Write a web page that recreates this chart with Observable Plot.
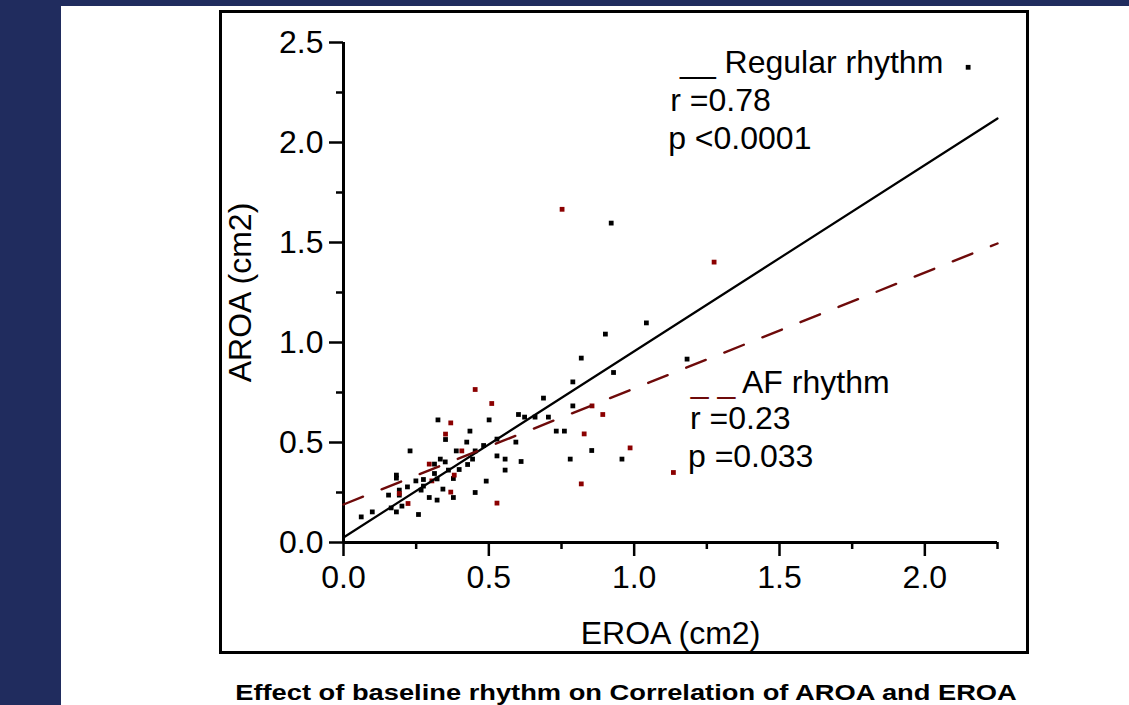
<!DOCTYPE html>
<html><head><meta charset="utf-8">
<script src="https://cdn.jsdelivr.net/npm/d3@7"></script>
<script src="https://cdn.jsdelivr.net/npm/@observablehq/plot@0.6"></script>
<style>
html,body{margin:0;padding:0;background:#fff;width:1129px;height:705px;overflow:hidden;position:relative;font-family:"Liberation Sans",Arial,sans-serif}
#leftband{position:absolute;left:0;top:0;width:61px;height:705px;background:#202c5e}
#topband{position:absolute;left:0;top:0;width:1129px;height:6px;background:#202c5e}
#box{position:absolute;left:219px;top:10px;width:804px;height:638px;border:3px solid #000;background:#fff}
#box svg{display:block}
#caption{position:absolute;left:626px;top:680px;white-space:nowrap;font-weight:bold;font-size:22px;line-height:26px;transform:translateX(-50%) scaleX(1.24);color:#000}
</style>
</head><body>
<div id="leftband"></div><div id="topband"></div>
<div id="box"></div>
<div id="caption">Effect of baseline rhythm on Correlation of AROA and EROA</div>
<script>
// Regular rhythm (black squares)
const regularX = [0.061,0.099,0.155,0.164,0.182,0.182,0.182,0.192,0.192,0.201,0.220,0.229,0.249,0.258,0.267,0.275,0.275,0.295,0.313,0.313,0.322,0.325,0.322,0.333,0.342,0.350,0.351,0.361,0.378,0.378,0.388,0.398,0.424,0.427,0.435,0.444,0.453,0.453,0.482,0.491,0.501,0.528,0.528,0.556,0.556,0.593,0.602,0.611,0.623,0.659,0.688,0.705,0.789,0.789,0.732,0.760,0.780,0.854,0.958,0.901,1.042,0.929,1.182,0.921,0.818];
const regularY = [0.128,0.153,0.237,0.173,0.153,0.337,0.322,0.262,0.237,0.182,0.278,0.458,0.308,0.140,0.262,0.315,0.282,0.225,0.392,0.345,0.212,0.613,0.318,0.417,0.267,0.403,0.515,0.362,0.320,0.225,0.458,0.365,0.502,0.390,0.557,0.417,0.458,0.250,0.485,0.307,0.613,0.517,0.433,0.417,0.362,0.502,0.640,0.405,0.627,0.627,0.722,0.627,0.803,0.683,0.557,0.557,0.417,0.460,0.417,1.042,1.098,0.850,0.917,1.597,0.922];
// AF rhythm (dark red squares)
const afX = [0.453,0.510,0.369,0.351,0.407,0.295,0.304,0.381,0.369,0.222,0.192,0.528,0.855,0.892,0.828,0.986,0.818,1.135,0.752,1.275];
const afY = [0.765,0.695,0.598,0.542,0.458,0.392,0.308,0.337,0.252,0.195,0.245,0.197,0.683,0.640,0.543,0.473,0.293,0.350,1.666,1.402];
// Fitted regression lines (end points)
const fitX = [0, 2.25];
const regularFitY = [0.025, 2.12];
const afFitY = [0.19, 1.495];
// Ticks
const xMajor = [0, 0.5, 1.0, 1.5, 2.0];
const xMinor = [0.25, 0.75, 1.25, 1.75, 2.25];
const yMajor = [0, 0.5, 1.0, 1.5, 2.0, 2.5];
const yMinor = [0.25, 0.75, 1.25, 1.75, 2.25];
// Annotation texts
const regularNote = ["__ Regular rhythm", "r =0.78", "p <0.0001"];
const afNote = ["_ _", "AF rhythm", "r =0.23", "p =0.033"];
const xLabel = "EROA (cm2)";
const yLabel = "AROA (cm2)";

const BLACK = "#000000", RED = "#8b0000", REDLINE = "#6e0a0a";
const regular = regularX.map((x, i) => ({x, y: regularY[i]}));
const af = afX.map((x, i) => ({x, y: afY[i]}));
const regFit = fitX.map((x, i) => ({x, y: regularFitY[i]}));
const afFit = fitX.map((x, i) => ({x, y: afFitY[i]}));

const notes = [
  {t: regularNote[0], x: 1.158, y: 2.397, c: BLACK},
  {t: regularNote[1], x: 1.124, y: 2.211, c: BLACK},
  {t: regularNote[2], x: 1.117, y: 2.017, c: BLACK},
  {t: afNote[0], x: 1.195, y: 0.80, c: REDLINE},
  {t: afNote[1], x: 1.371, y: 0.80, c: BLACK},
  {t: afNote[2], x: 1.192, y: 0.62, c: BLACK},
  {t: afNote[3], x: 1.185, y: 0.427, c: BLACK}
];
const FS = 32;
const chart = Plot.plot({
  width: 804, height: 638,
  marginLeft: 121, marginRight: 29, marginTop: 29, marginBottom: 109,
  x: {domain: [0, 2.25]},
  y: {domain: [0, 2.5]},
  style: {fontFamily: "'Liberation Sans', Arial, sans-serif", background: "transparent", color: "#000", overflow: "visible"},
  marks: [
    Plot.axisX(xMajor, {tickSize: 14, tickPadding: 9, strokeWidth: 2.5, fontSize: FS, tickFormat: d3.format(".1f"), label: null}),
    Plot.axisX(xMinor, {tickSize: 7, strokeWidth: 2.5, tickFormat: () => "", label: null}),
    Plot.axisY(yMajor, {tickSize: 14, tickPadding: 6, strokeWidth: 2.5, fontSize: FS, tickFormat: d3.format(".1f"), label: null}),
    Plot.axisY(yMinor, {tickSize: 7, strokeWidth: 2.5, tickFormat: () => "", label: null}),
    Plot.ruleY([0], {strokeWidth: 3}),
    Plot.ruleX([0], {strokeWidth: 3}),
    Plot.dot(regular, {x: "x", y: "y", symbol: "square", r: 2.7, fill: BLACK, stroke: null}),
    Plot.dot(af, {x: "x", y: "y", symbol: "square", r: 2.7, fill: RED, stroke: null}),
    Plot.line(regFit, {x: "x", y: "y", stroke: BLACK, strokeWidth: 2.2}),
    Plot.line(afFit, {x: "x", y: "y", stroke: REDLINE, strokeWidth: 2.4, strokeDasharray: "21,20"}),
    Plot.text(notes, {x: "x", y: "y", text: "t", fill: "c", textAnchor: "start", lineAnchor: "middle", fontSize: FS}),
    Plot.dot([{x: 2.149, y: 2.376}], {x: "x", y: "y", symbol: "square", r: 2.7, fill: BLACK}),
    Plot.text([xLabel], {frameAnchor: "bottom", dy: 91, lineAnchor: "middle", fontSize: FS}),
    Plot.text([yLabel], {frameAnchor: "left", dx: -103, rotate: -90, textAnchor: "middle", lineAnchor: "middle", fontSize: FS})
  ]
});
document.getElementById("box").appendChild(chart);
</script>
</body></html>
